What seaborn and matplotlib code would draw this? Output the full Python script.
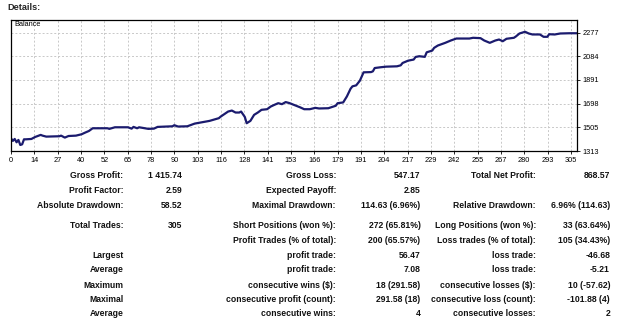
import matplotlib
matplotlib.use("Agg")
import matplotlib.pyplot as plt
import seaborn as sns
import numpy as np
import pandas as pd

# ---------------- data ----------------
trades = [0, 1, 2, 3, 4, 5, 6, 7, 8, 11, 13, 16, 17, 19, 26, 27, 29, 31, 35, 38,
          40, 42, 44, 52, 53, 56, 63, 65, 66, 68, 69, 71, 74, 77, 79, 87, 88, 90, 95, 99,
          103, 107, 112, 113, 117, 119, 121, 123, 124, 126, 127, 129, 131, 133, 135, 138, 140, 142, 144, 146,
          148, 150, 156, 158, 161, 164, 166, 171, 175, 176, 179, 181, 183, 184, 186, 188, 190, 194, 195, 196,
          199, 202, 208, 210, 211, 214, 217, 218, 220, 223, 224, 227, 228, 230, 234, 237, 240, 247, 249, 253,
          255, 258, 261, 263, 265, 267, 271, 272, 274, 277, 279, 281, 285, 287, 289, 290, 293, 296, 301, 305]
balance = [1416, 1395, 1411, 1384, 1403, 1362, 1367, 1408, 1408, 1411, 1427, 1444, 1438, 1430, 1433, 1438, 1422, 1435, 1438, 1449,
           1463, 1476, 1498, 1498, 1493, 1506, 1506, 1495, 1509, 1498, 1506, 1501, 1493, 1495, 1509, 1514, 1523, 1512, 1514, 1536,
           1547, 1558, 1580, 1593, 1634, 1642, 1626, 1626, 1634, 1590, 1539, 1558, 1607, 1626, 1648, 1653, 1675, 1689, 1702, 1694,
           1711, 1703, 1667, 1653, 1653, 1664, 1659, 1661, 1681, 1702, 1708, 1757, 1820, 1839, 1847, 1885, 1953, 1955, 1961, 1988,
           1994, 1999, 2002, 2010, 2029, 2048, 2057, 2078, 2084, 2079, 2116, 2130, 2152, 2171, 2193, 2212, 2228, 2228, 2234, 2231,
           2212, 2193, 2212, 2220, 2206, 2226, 2234, 2244, 2269, 2283, 2269, 2261, 2261, 2242, 2242, 2263, 2261, 2269, 2271, 2271]

x_tick_labels = ["0", "14", "27", "40", "52", "65", "78", "90", "103", "116", "128", "141", "153",
                 "166", "179", "191", "204", "217", "229", "242", "255", "267", "280", "293", "305"]
y_ticks = [1313, 1505, 1698, 1891, 2084, 2277]

col1_labels = ["Gross Profit:", "Profit Factor:", "Absolute Drawdown:", "Total Trades:", "",
               "Largest", "Average", "Maximum", "Maximal", "Average"]
col1_values = ["1 415.74", "2.59", "58.52", "305", "", "", "", "", "", ""]
col2_labels = ["Gross Loss:", "Expected Payoff:", "Maximal Drawdown:", "Short Positions (won %):",
               "Profit Trades (% of total):", "profit trade:", "profit trade:", "consecutive wins ($):",
               "consecutive profit (count):", "consecutive wins:"]
col2_values = ["547.17", "2.85", "114.63 (6.96%)", "272 (65.81%)", "200 (65.57%)", "56.47", "7.08",
               "18 (291.58)", "291.58 (18)", "4"]
col3_labels = ["Total Net Profit:", "", "Relative Drawdown:", "Long Positions (won %):",
               "Loss trades (% of total):", "loss trade:", "loss trade:", "consecutive losses ($):",
               "consecutive loss (count):", "consecutive losses:"]
col3_values = ["868.57", "", "6.96% (114.63)", "33 (63.64%)", "105 (34.43%)", "-46.68", "-5.21",
               "10 (-57.62)", "-101.88 (4)", "2"]

# ---------------- style ----------------
sns.set_style("white")
plt.rcParams['font.family'] = ['Liberation Sans', 'DejaVu Sans']

W, H = 625, 323
fig = plt.figure(figsize=(W / 100, H / 100), dpi=100)
fig.patch.set_facecolor("white")

# axes placement in pixels
ax_l, ax_r, ax_t, ax_b = 11, 577, 20, 151
ax = fig.add_axes([ax_l / W, 1 - ax_b / H, (ax_r - ax_l) / W, (ax_b - ax_t) / H])

df = pd.DataFrame({"trade": trades, "balance": balance})
sns.lineplot(data=df, x="trade", y="balance", ax=ax, color="#1b1b6e", linewidth=1.6)

x_max = 305
ax.set_xlim(0, x_max)
y_step = y_ticks[1] - y_ticks[0]
ax.set_ylim(y_ticks[0], y_ticks[0] + (ax_b - ax_t) / 23.6 * y_step)

n = len(x_tick_labels)
grid_px = 23.33
xt = [k * grid_px * x_max / (ax_r - ax_l) for k in range(n)]
ax.set_xticks(xt)
ax.set_xticklabels(x_tick_labels)
ax.set_yticks(y_ticks)
ax.set_yticklabels([str(v) for v in y_ticks])
ax.yaxis.tick_right()
ax.tick_params(axis="both", labelsize=5.3, length=2.5, width=0.6, color="black", pad=1.5,
               labelcolor="black")
ax.tick_params(axis="x", bottom=True)
ax.tick_params(axis="y", right=True, left=False)
ax.set_xlabel("")
ax.set_ylabel("")

for v in xt[1:]:
    ax.axvline(v, color="#c8c8c8", linestyle=(0, (2, 2)), linewidth=0.7, zorder=0)
for v in y_ticks[1:]:
    ax.axhline(v, color="#c8c8c8", linestyle=(0, (2, 2)), linewidth=0.7, zorder=0)

for s in ax.spines.values():
    s.set_color("black")
    s.set_linewidth(0.9)
    s.set_visible(True)

ax.text(3 / (ax_r - ax_l), 1 - 5 / (ax_b - ax_t), "Balance", transform=ax.transAxes,
        fontsize=5.3, ha="left", va="center", color="black")

fig.text(7 / W, 1 - 7 / H, "Details:", fontsize=6.6, fontweight="bold", ha="left", va="center")

# ---------------- table ----------------
row_y = [176, 190.7, 205, 225.7, 240.3, 255.3, 270, 285, 299.3, 314]
cols = [(123.3, col1_labels), (182.3, col1_values), (336, col2_labels),
        (420.5, col2_values), (536, col3_labels), (610, col3_values)]
for xr, texts in cols:
    for y, t in zip(row_y, texts):
        if t:
            fig.text(xr / W, 1 - y / H, t, fontsize=6.2, fontweight="bold",
                     ha="right", va="center", color="#111111")

fig.savefig("out.png", dpi=100, facecolor="white")
